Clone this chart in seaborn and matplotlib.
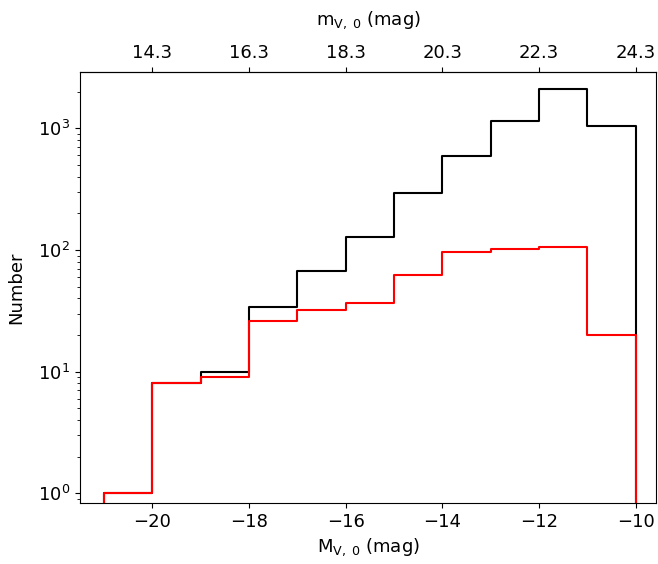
import numpy as np
import pandas as pd
import seaborn as sns
import matplotlib
matplotlib.use("Agg")
import matplotlib.pyplot as plt

# Data
bin_edges = [-21, -20, -19, -18, -17, -16, -15, -14, -13, -12, -11, -10]
counts_all = [1, 8, 10, 34, 67, 129, 293, 594, 1160, 2100, 1054]
counts_sel = [1, 8, 9, 26, 32, 37, 62, 96, 102, 105, 20]
bottom_ticks = [-20, -18, -16, -14, -12, -10]
top_tick_labels = ["14.3", "16.3", "18.3", "20.3", "22.3", "24.3"]

sns.set_style("ticks", {"axes.edgecolor": "black", "text.color": "black",
                        "axes.labelcolor": "black", "xtick.color": "black",
                        "ytick.color": "black"})
plt.rcParams["font.family"] = ["DejaVu Sans"]
plt.rcParams["font.size"] = 13

centers = [(a + b) / 2 for a, b in zip(bin_edges[:-1], bin_edges[1:])]
df = pd.DataFrame({"M": centers, "all": counts_all, "sel": counts_sel})

fig = plt.figure(figsize=(6.58, 5.64), dpi=100)
ax = fig.add_axes([0.1216, 0.108, 0.876, 0.764])

sns.histplot(data=df, x="M", weights="all", bins=bin_edges, element="step",
             fill=True, color="black", facecolor=(1, 1, 1, 0), edgecolor="black",
             linewidth=1.5, ax=ax)
sns.histplot(data=df, x="M", weights="sel", bins=bin_edges, element="step",
             fill=True, color="red", facecolor=(1, 1, 1, 0), edgecolor="red",
             linewidth=1.5, ax=ax)

ax.set_yscale("log")
ax.set_ylim(0.83, 2900)
ax.set_xlim(-21.5, -9.57)
ax.set_xticks(bottom_ticks)
ax.set_xticklabels([f"\u2212{abs(t)}" for t in bottom_ticks])
ax.set_xlabel(r"$\mathrm{M_{V,\;0}}$ (mag)", fontsize=13)
ax.set_ylabel("Number", fontsize=13, labelpad=9)
ax.tick_params(labelsize=13, colors="black")

sec = ax.secondary_xaxis("top")
sec.set_xticks(bottom_ticks)
sec.set_xticklabels(top_tick_labels)
sec.set_xlabel(r"$\mathrm{m_{V,\;0}}$ (mag)", fontsize=13, labelpad=14)
sec.tick_params(labelsize=13, colors="black")

for s in ax.spines.values():
    s.set_visible(True)
    s.set_color("black")

fig.savefig("out.png", dpi=100)
